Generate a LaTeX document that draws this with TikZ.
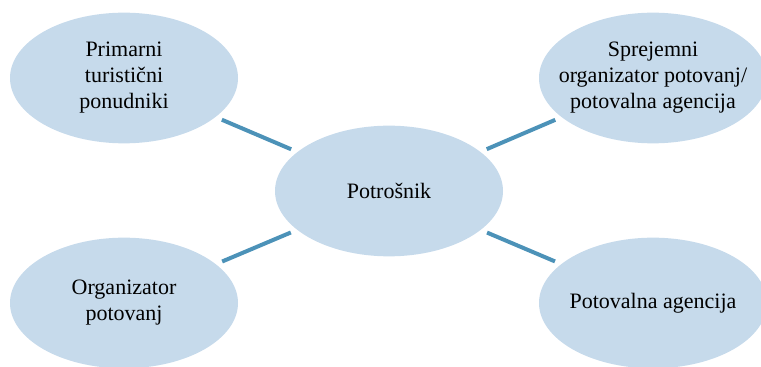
\documentclass[tikz,border=0pt]{standalone}
\usepackage{fontspec}
\setmainfont{Liberation Serif}
\usepackage{tikz}
\usetikzlibrary{shapes.geometric}
\usepackage{color}
\definecolor{bubbleBlue}{RGB}{198,218,235}
\definecolor{linkBlue}{RGB}{76,146,184}

\begin{document}
\begin{tikzpicture}[x=0.75pt, y=-0.75pt, text=black]
		% Page frame
		\clip (0,0) rectangle (761,367);
		\useasboundingbox (0,0) rectangle (761,367);
		
		% Bubbles
		\begin{scope}[every node/.style={ellipse, fill=bubbleBlue, inner xsep=-14pt, inner ysep=0pt, minimum width=171pt, minimum height=98pt, align=center, font=\fontsize{16.5}{19.5}\selectfont}]
			\node (C) at (389,191) {Potrošnik};
			\node (TL) at (124,78) {Primarni\\turistični\\ponudniki};
			\node (TR) at (653,78) {Sprejemni\\organizator potovanj/\\potovalna agencija};
			\node (BL) at (124,303) {Organizator\\potovanj};
			\node (BR) at (653,303) {Potovalna agencija};
		\end{scope}
		
		% Links
		\begin{scope}[every edge/.style={draw=linkBlue, line width=3pt, shorten >=5pt, shorten <=5pt}]
			\path (TL) edge (C);
			\path (TR) edge (C);
			\path (BL) edge (C);
			\path (BR) edge (C);
		\end{scope}
	\end{tikzpicture}
\end{document}
